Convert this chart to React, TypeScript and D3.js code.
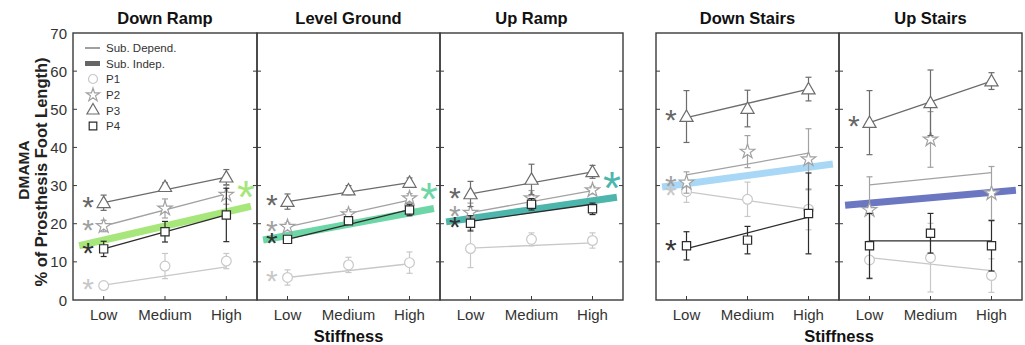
import React from "react";
import * as d3 from "d3";

const panelTitles = ["Down Ramp", "Level Ground", "Up Ramp", "Down Stairs", "Up Stairs"];
const stiffnessLevels = ["Low", "Medium", "High"];
const yTicks = [0, 10, 20, 30, 40, 50, 60, 70];
const participants = ["P1", "P2", "P3", "P4"];

// per panel: [Low, Medium, High]
const p1Mean = [[3.8, 8.9, 10.2], [5.9, 9.2, 9.8], [13.5, 15.9, 15.6], [28.4, 26.4, 23.8], [10.5, 11.1, 6.4]];
const p1Err = [[0.6, 3.3, 2], [2, 2, 2.8], [5, 1.7, 2], [2.8, 4.5, 5.4], [5, 9, 4.4]];
const p1Fit = [[3.9, 8.7], [5.9, 9.5], [13.6, 15.0], [28.4, 23.8], [11.1, 7.7]];
const p2Mean = [[19.4, 24, 27.6], [19.2, 22.5, 26.7], [22.9, 26.7, 28.8], [30.8, 38.9, 36.9], [23.6, 42.1, 28]];
const p2Err = [[1.5, 2.5, 2.5], [1, 1.2, 1.2], [2.5, 2, 1], [2.8, 4.2, 8], [8.7, 7.3, 7]];
const p2Fit = [[19.4, 27.8], [19.2, 26.2], [22.9, 28.7], [32.8, 38.5], [30.2, 33.4]];
const p3Mean = [[25.5, 29.7, 32.2], [25.8, 28.8, 30.8], [27.8, 31.6, 33.6], [48.1, 50.2, 55.3], [46.5, 51.7, 57.4]];
const p3Err = [[2, 1, 2], [2, 1.2, 1.2], [3.3, 4, 1.7], [6.8, 4.8, 3.1], [8.4, 8.6, 2.2]];
const p3Fit = [[25.5, 32.2], [25.8, 30.8], [27.8, 33.6], [47.8, 55.3], [46.5, 57.4]];
const p4Mean = [[13.4, 17.9, 22.3], [15.9, 20.8, 23.6], [20.1, 25.1, 23.9], [14.2, 15.7, 22.7], [14.2, 17.5, 14.2]];
const p4Err = [[2, 2.7, 7], [0.8, 1, 1.5], [2, 1.5, 1.5], [3.7, 3.6, 10.6], [8.5, 5.2, 6.6]];
const p4Fit = [[13.4, 22.3], [15.9, 23.7], [20.6, 25.1], [13.5, 21.7], [15.5, 15.5]];

const indepFit = [[15.7, 23.1], [16.9, 22.8], [21.4, 26.0], [30.5, 34.8], [25.4, 28.2]];
const indepColors = ["#a6e67a", "#6dd6a7", "#4db6ac", "#a9d8f6", "#6b77c0"];
const indepSig = [true, true, true, false, false];

const p1Sig = [true, true, false, true, false];
const p2Sig = [true, true, true, true, false];
const p3Sig = [true, true, true, true, true];
const p4Sig = [true, true, true, true, false];

const pColors = ["#c8c8c8", "#a2a2a2", "#6c6c6c", "#2c2c2c"];
const pStarColors = ["#c8c8c8", "#a0a0a0", "#666666", "#333333"];
const pSymbols = [d3.symbolCircle, d3.symbolStar, d3.symbolTriangle, d3.symbolSquare];
const pSymbolSizes = [75, 65, 75, 68];

const panelX = [[73, 257], [257, 440], [440, 623], [656, 839], [839, 1022]];
const TOP = 33;
const BOTTOM = 300;
const FONT = "'Liberation Sans', Arial, Helvetica, sans-serif";

const means = [p1Mean, p2Mean, p3Mean, p4Mean];
const errs = [p1Err, p2Err, p3Err, p4Err];
const fits = [p1Fit, p2Fit, p3Fit, p4Fit];
const sigs = [p1Sig, p2Sig, p3Sig, p4Sig];

const y = d3.scaleLinear().domain([0, 70]).range([BOTTOM, TOP]);

function Asterisk({ x, yc, size, color }: { x: number; yc: number; size: number; color: string }) {
  return (
    <text x={x} y={yc + size * 0.46} fontSize={size} fontFamily={FONT} fill={color} textAnchor="middle">
      *
    </text>
  );
}

function Panel({ i }: { i: number }) {
  const [x0, x1] = panelX[i];
  const x = d3.scaleLinear().domain([0.5, 3.5]).range([x0, x1]);
  const line = d3.line<[number, number]>().x((d) => x(d[0])).y((d) => y(d[1]));
  const [lo, hi] = indepFit[i];
  const slope = (hi - lo) / 2;
  const at = (xv: number) => lo + (xv - 1) * slope;
  const indepPts: [number, number][] = [
    [0.6, at(0.6)],
    [3.4, at(3.4)],
  ];
  return (
    <g>
      <path d={line(indepPts) || ""} stroke={indepColors[i]} strokeWidth={7} fill="none" />
      {participants.map((p, k) => {
        const m = means[k][i];
        const e = errs[k][i];
        const f = fits[k][i];
        const sym = d3.symbol().type(pSymbols[k]).size(pSymbolSizes[k]);
        return (
          <g key={p}>
            <path
              d={line([[1, f[0]], [3, f[1]]]) || ""}
              stroke={pColors[k]}
              strokeWidth={1.3}
              fill="none"
            />
            {m.map((v, j) => {
              const cx = x(j + 1);
              return (
                <g key={j} stroke={pColors[k]} strokeWidth={1.2}>
                  <line x1={cx} x2={cx} y1={y(v - e[j])} y2={y(v + e[j])} />
                  <line x1={cx - 3} x2={cx + 3} y1={y(v - e[j])} y2={y(v - e[j])} />
                  <line x1={cx - 3} x2={cx + 3} y1={y(v + e[j])} y2={y(v + e[j])} />
                </g>
              );
            })}
            {m.map((v, j) => (
              <path
                key={"m" + j}
                d={sym() || ""}
                transform={`translate(${x(j + 1)},${y(v) + (k === 2 ? 1 : 0)})`}
                fill="white"
                stroke={pColors[k]}
                strokeWidth={1.2}
              />
            ))}
            {sigs[k][i] && <Asterisk x={x(0.745)} yc={y(m[0])} size={30} color={pStarColors[k]} />}
          </g>
        );
      })}
      {indepSig[i] && <Asterisk x={x(3.32)} yc={y(at(3.32) + 4)} size={46} color={indepColors[i]} />}
      <rect x={x0} y={TOP} width={x1 - x0} height={BOTTOM - TOP} fill="none" stroke="#3a3a3a" strokeWidth={1.4} />
      {yTicks.slice(1, -1).map((t) => (
        <g key={t} stroke="#3a3a3a" strokeWidth={1}>
          <line x1={x0} x2={x0 + 4} y1={y(t)} y2={y(t)} />
          <line x1={x1} x2={x1 - 4} y1={y(t)} y2={y(t)} />
        </g>
      ))}
      {stiffnessLevels.map((s, j) => (
        <g key={s}>
          <line x1={x(j + 1)} x2={x(j + 1)} y1={BOTTOM} y2={BOTTOM - 4} stroke="#3a3a3a" strokeWidth={1} />
          <text x={x(j + 1)} y={320} fontSize={15} fontFamily={FONT} fill="#333" textAnchor="middle">
            {s}
          </text>
        </g>
      ))}
      <text x={(x0 + x1) / 2} y={24} fontSize={16.5} fontWeight="bold" fontFamily={FONT} fill="#111" textAnchor="middle">
        {panelTitles[i]}
      </text>
    </g>
  );
}

function Legend() {
  const lx = 85;
  const rows = [48, 63.5, 79, 95, 110.5, 126];
  const tx = 106;
  return (
    <g fontFamily={FONT} fontSize={11.5} fill="#333">
      <line x1={lx} x2={lx + 15} y1={rows[0]} y2={rows[0]} stroke="#6c6c6c" strokeWidth={1.3} />
      <text x={tx} y={rows[0] + 4}>Sub. Depend.</text>
      <line x1={lx} x2={lx + 15} y1={rows[1]} y2={rows[1]} stroke="#666" strokeWidth={5} />
      <text x={tx} y={rows[1] + 4}>Sub. Indep.</text>
      {participants.map((p, k) => {
        const sym = d3.symbol().type(pSymbols[k]).size(pSymbolSizes[k] * 0.85);
        return (
          <g key={p}>
            <path d={sym() || ""} transform={`translate(${lx + 8},${rows[k + 2]})`} fill="white" stroke={pColors[k]} strokeWidth={1.2} />
            <text x={tx} y={rows[k + 2] + 4}>{p}</text>
          </g>
        );
      })}
    </g>
  );
}

export default function App() {
  return (
    <svg
      width={1025}
      height={345}
      style={{ position: "absolute", left: 0, top: 0, background: "white" }}
    >
      <rect width={1025} height={345} fill="white" />
      {panelTitles.map((_, i) => (
        <Panel key={i} i={i} />
      ))}
      <Legend />
      {yTicks.map((t) => (
        <text key={t} x={67} y={y(t) + 5.5} fontSize={15} fontFamily={FONT} fill="#333" textAnchor="end">
          {t}
        </text>
      ))}
      <text
        transform={`translate(29,170) rotate(-90)`}
        fontSize={15.5}
        fontWeight="bold"
        fontFamily={FONT}
        fill="#222"
        textAnchor="middle"
      >
        DMAMA
      </text>
      <text
        transform={`translate(47,172) rotate(-90)`}
        fontSize={16.5}
        fontWeight="bold"
        fontFamily={FONT}
        fill="#222"
        textAnchor="middle"
      >
        % of Prosthesis Foot Length)
      </text>
      {[348.5, 839].map((cx) => (
        <text key={cx} x={cx} y={342} fontSize={16.5} fontWeight="bold" fontFamily={FONT} fill="#111" textAnchor="middle">
          Stiffness
        </text>
      ))}
    </svg>
  );
}
